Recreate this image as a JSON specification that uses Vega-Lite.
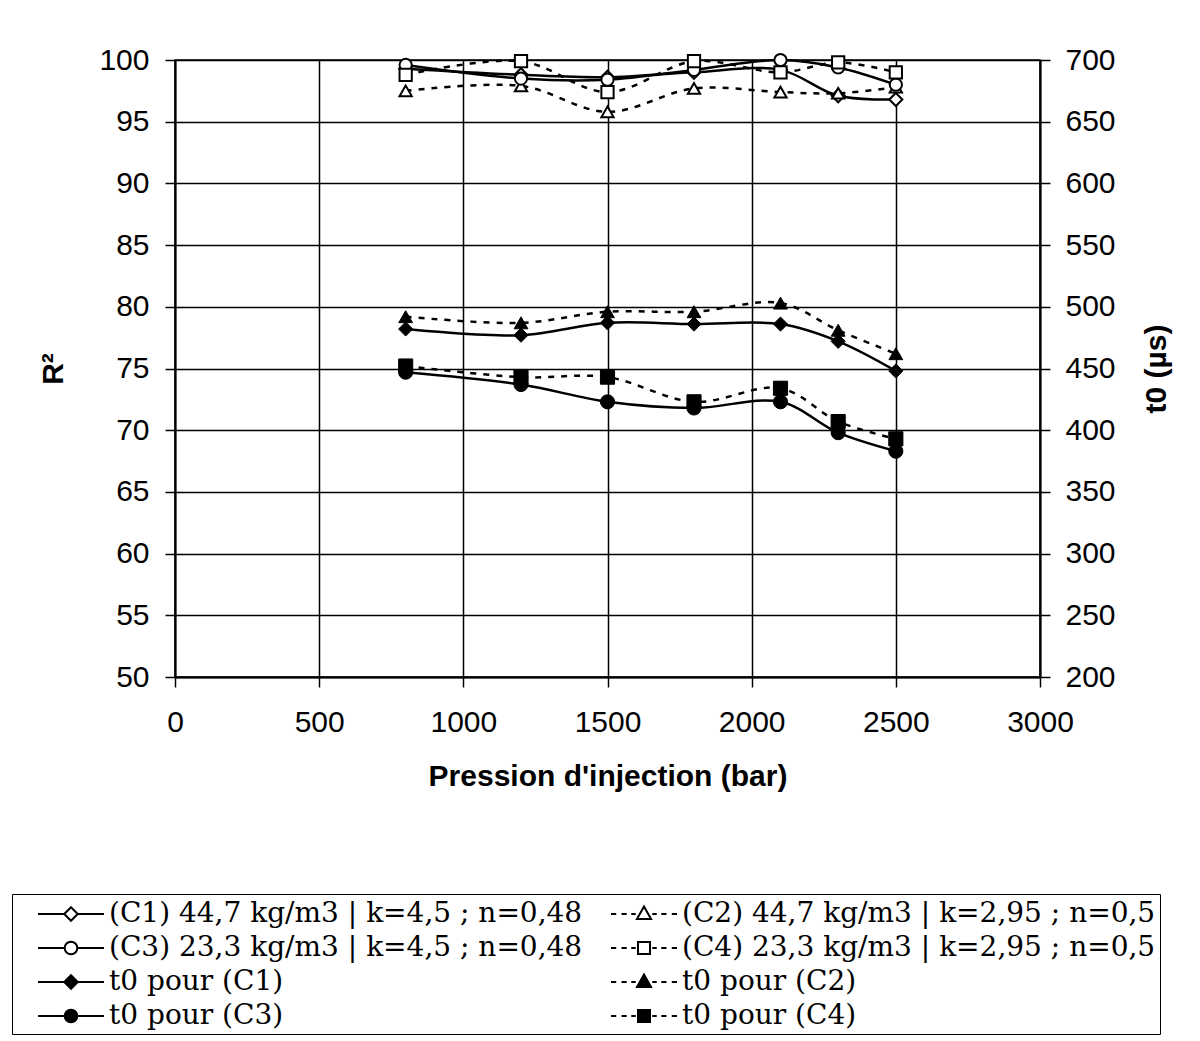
{
  "$schema": "https://vega.github.io/schema/vega-lite/v6.json",
  "autosize": {"type": "none"},
  "width": 865,
  "height": 617,
  "padding": {"left": 175, "top": 60, "right": 160, "bottom": 364},
  "background": "white",
  "config": {
    "view": {"stroke": "black", "strokeWidth": 1.5},
    "axis": {
      "labelFont": "Liberation Sans", "labelFontSize": 30, "labelColor": "black",
      "titleFont": "Liberation Sans", "titleFontSize": 30, "titleFontWeight": "bold", "titleColor": "black",
      "domainColor": "black", "domainWidth": 2, "tickColor": "black", "tickWidth": 1.5, "tickSize": 10,
      "gridColor": "black", "gridWidth": 1.5, "gridOpacity": 1, "labelFlush": false
    },
    "legend": {
      "orient": "none", "legendX": -163, "legendY": 834, "direction": "horizontal",
      "columns": 2, "columnPadding": 6, "rowPadding": 4, "padding": 4,
      "strokeColor": "black", "fillColor": "white",
      "labelFont": "DejaVu Serif", "labelFontSize": 28, "labelColor": "black",
      "labelLimit": 0, "symbolOffset": 39, "labelOffset": 22, "symbolSize": 900, "symbolStrokeWidth": 2,
      "symbolStrokeColor": "black", "symbolOpacity": 1
    }
  },
  "data": {"values": [
    {"s": "(C1) 44,7 kg/m3 | k=4,5 ; n=0,48", "p": 800, "v": 99.3},
    {"s": "(C1) 44,7 kg/m3 | k=4,5 ; n=0,48", "p": 1200, "v": 98.8},
    {"s": "(C1) 44,7 kg/m3 | k=4,5 ; n=0,48", "p": 1500, "v": 98.6},
    {"s": "(C1) 44,7 kg/m3 | k=4,5 ; n=0,48", "p": 1800, "v": 99.0},
    {"s": "(C1) 44,7 kg/m3 | k=4,5 ; n=0,48", "p": 2100, "v": 99.2},
    {"s": "(C1) 44,7 kg/m3 | k=4,5 ; n=0,48", "p": 2300, "v": 97.1},
    {"s": "(C1) 44,7 kg/m3 | k=4,5 ; n=0,48", "p": 2500, "v": 96.8},
    {"s": "(C2) 44,7 kg/m3 | k=2,95 ; n=0,5", "p": 800, "v": 97.5},
    {"s": "(C2) 44,7 kg/m3 | k=2,95 ; n=0,5", "p": 1200, "v": 97.9},
    {"s": "(C2) 44,7 kg/m3 | k=2,95 ; n=0,5", "p": 1500, "v": 95.8},
    {"s": "(C2) 44,7 kg/m3 | k=2,95 ; n=0,5", "p": 1800, "v": 97.7},
    {"s": "(C2) 44,7 kg/m3 | k=2,95 ; n=0,5", "p": 2100, "v": 97.4},
    {"s": "(C2) 44,7 kg/m3 | k=2,95 ; n=0,5", "p": 2300, "v": 97.3},
    {"s": "(C2) 44,7 kg/m3 | k=2,95 ; n=0,5", "p": 2500, "v": 97.8},
    {"s": "(C3) 23,3 kg/m3 | k=4,5 ; n=0,48", "p": 800, "v": 99.6},
    {"s": "(C3) 23,3 kg/m3 | k=4,5 ; n=0,48", "p": 1200, "v": 98.5},
    {"s": "(C3) 23,3 kg/m3 | k=4,5 ; n=0,48", "p": 1500, "v": 98.4},
    {"s": "(C3) 23,3 kg/m3 | k=4,5 ; n=0,48", "p": 1800, "v": 99.2},
    {"s": "(C3) 23,3 kg/m3 | k=4,5 ; n=0,48", "p": 2100, "v": 100.0},
    {"s": "(C3) 23,3 kg/m3 | k=4,5 ; n=0,48", "p": 2300, "v": 99.4},
    {"s": "(C3) 23,3 kg/m3 | k=4,5 ; n=0,48", "p": 2500, "v": 98.0},
    {"s": "(C4) 23,3 kg/m3 | k=2,95 ; n=0,5", "p": 800, "v": 98.8},
    {"s": "(C4) 23,3 kg/m3 | k=2,95 ; n=0,5", "p": 1200, "v": 99.9},
    {"s": "(C4) 23,3 kg/m3 | k=2,95 ; n=0,5", "p": 1500, "v": 97.4},
    {"s": "(C4) 23,3 kg/m3 | k=2,95 ; n=0,5", "p": 1800, "v": 99.9},
    {"s": "(C4) 23,3 kg/m3 | k=2,95 ; n=0,5", "p": 2100, "v": 99.0},
    {"s": "(C4) 23,3 kg/m3 | k=2,95 ; n=0,5", "p": 2300, "v": 99.8},
    {"s": "(C4) 23,3 kg/m3 | k=2,95 ; n=0,5", "p": 2500, "v": 99.0},
    {"s": "t0 pour (C1)", "p": 800, "v": 482},
    {"s": "t0 pour (C1)", "p": 1200, "v": 477},
    {"s": "t0 pour (C1)", "p": 1500, "v": 487},
    {"s": "t0 pour (C1)", "p": 1800, "v": 486},
    {"s": "t0 pour (C1)", "p": 2100, "v": 486},
    {"s": "t0 pour (C1)", "p": 2300, "v": 472},
    {"s": "t0 pour (C1)", "p": 2500, "v": 448},
    {"s": "t0 pour (C2)", "p": 800, "v": 492},
    {"s": "t0 pour (C2)", "p": 1200, "v": 487},
    {"s": "t0 pour (C2)", "p": 1500, "v": 496},
    {"s": "t0 pour (C2)", "p": 1800, "v": 496},
    {"s": "t0 pour (C2)", "p": 2100, "v": 503},
    {"s": "t0 pour (C2)", "p": 2300, "v": 481},
    {"s": "t0 pour (C2)", "p": 2500, "v": 462},
    {"s": "t0 pour (C3)", "p": 800, "v": 447},
    {"s": "t0 pour (C3)", "p": 1200, "v": 437},
    {"s": "t0 pour (C3)", "p": 1500, "v": 423},
    {"s": "t0 pour (C3)", "p": 1800, "v": 418},
    {"s": "t0 pour (C3)", "p": 2100, "v": 423},
    {"s": "t0 pour (C3)", "p": 2300, "v": 398},
    {"s": "t0 pour (C3)", "p": 2500, "v": 383},
    {"s": "t0 pour (C4)", "p": 800, "v": 452},
    {"s": "t0 pour (C4)", "p": 1200, "v": 443},
    {"s": "t0 pour (C4)", "p": 1500, "v": 443},
    {"s": "t0 pour (C4)", "p": 1800, "v": 423},
    {"s": "t0 pour (C4)", "p": 2100, "v": 434},
    {"s": "t0 pour (C4)", "p": 2300, "v": 407},
    {"s": "t0 pour (C4)", "p": 2500, "v": 393}
  ]},
  "layer": [
    {
      "transform": [{"filter": "indexof(datum.s, 't0') != 0"}],
      "encoding": {
        "x": {"field": "p", "type": "quantitative", "scale": {"domain": [0, 3000], "nice": false, "zero": false},
              "axis": {"values": [0, 500, 1000, 1500, 2000, 2500, 3000], "format": "d", "title": "Pression d'injection (bar)", "labelPadding": 20, "titlePadding": 24, "grid": true}},
        "y": {"field": "v", "type": "quantitative", "scale": {"domain": [50, 100], "nice": false, "zero": false},
              "axis": {"orient": "left", "values": [50, 55, 60, 65, 70, 75, 80, 85, 90, 95, 100], "title": "R²", "labelPadding": 16, "titlePadding": 30, "grid": true}}
      },
      "layer": [
        {
          "transform": [{"filter": "indexof(datum.s, '(C1)') == 0 || indexof(datum.s, '(C3)') == 0"}],
          "mark": {"type": "line", "interpolate": "catmull-rom", "color": "black", "strokeWidth": 2.5},
          "encoding": {"detail": {"field": "s"}}
        },
        {
          "transform": [{"filter": "indexof(datum.s, '(C2)') == 0 || indexof(datum.s, '(C4)') == 0"}],
          "mark": {"type": "line", "interpolate": "catmull-rom", "color": "black", "strokeWidth": 2.5, "strokeDash": [6, 7]},
          "encoding": {"detail": {"field": "s"}}
        },
        {
          "transform": [{"filter": "indexof(datum.s, '(C1)') == 0"}],
          "mark": {"type": "point", "shape": "diamond", "filled": true, "fill": "white", "stroke": "black", "strokeWidth": 2, "size": 170, "opacity": 1}
        },
        {
          "transform": [{"filter": "indexof(datum.s, '(C2)') == 0"}],
          "mark": {"type": "point", "shape": "triangle-up", "filled": true, "fill": "white", "stroke": "black", "strokeWidth": 2, "size": 150, "opacity": 1}
        },
        {
          "transform": [{"filter": "indexof(datum.s, '(C3)') == 0"}],
          "mark": {"type": "point", "shape": "circle", "filled": true, "fill": "white", "stroke": "black", "strokeWidth": 2, "size": 150, "opacity": 1}
        },
        {
          "transform": [{"filter": "indexof(datum.s, '(C4)') == 0"}],
          "mark": {"type": "point", "shape": "square", "filled": true, "fill": "white", "stroke": "black", "strokeWidth": 2, "size": 150, "opacity": 1}
        }
      ]
    },
    {
      "transform": [{"filter": "indexof(datum.s, 't0') == 0"}],
      "encoding": {
        "x": {"field": "p", "type": "quantitative"},
        "y": {"field": "v", "type": "quantitative", "scale": {"domain": [200, 700], "nice": false, "zero": false},
              "axis": {"orient": "right", "values": [200, 250, 300, 350, 400, 450, 500, 550, 600, 650, 700], "title": "t0 (µs)", "titleAngle": 270, "titleBaseline": "top", "labelPadding": 15, "titlePadding": 26, "grid": false}}
      },
      "layer": [
        {
          "transform": [{"filter": "indexof(datum.s, '(C1)') >= 0 || indexof(datum.s, '(C3)') >= 0"}],
          "mark": {"type": "line", "interpolate": "catmull-rom", "color": "black", "strokeWidth": 2.5},
          "encoding": {"detail": {"field": "s"}}
        },
        {
          "transform": [{"filter": "indexof(datum.s, '(C2)') >= 0 || indexof(datum.s, '(C4)') >= 0"}],
          "mark": {"type": "line", "interpolate": "catmull-rom", "color": "black", "strokeWidth": 2.5, "strokeDash": [6, 7]},
          "encoding": {"detail": {"field": "s"}}
        },
        {
          "transform": [{"filter": "indexof(datum.s, '(C1)') >= 0"}],
          "mark": {"type": "point", "shape": "diamond", "filled": true, "fill": "black", "stroke": "black", "strokeWidth": 1, "size": 200, "opacity": 1}
        },
        {
          "transform": [{"filter": "indexof(datum.s, '(C2)') >= 0"}],
          "mark": {"type": "point", "shape": "triangle-up", "filled": true, "fill": "black", "stroke": "black", "strokeWidth": 1, "size": 190, "opacity": 1}
        },
        {
          "transform": [{"filter": "indexof(datum.s, '(C3)') >= 0"}],
          "mark": {"type": "point", "shape": "circle", "filled": true, "fill": "black", "stroke": "black", "strokeWidth": 1, "size": 200, "opacity": 1}
        },
        {
          "transform": [{"filter": "indexof(datum.s, '(C4)') >= 0"}],
          "mark": {"type": "point", "shape": "square", "filled": true, "fill": "black", "stroke": "black", "strokeWidth": 1, "size": 200, "opacity": 1}
        }
      ]
    },
    {
      "transform": [{"filter": "false"}],
      "mark": {"type": "point", "filled": false, "stroke": "black", "strokeWidth": 2, "opacity": 1},
      "encoding": {
        "shape": {"field": "s", "type": "nominal",
          "scale": {"domain": ["(C1) 44,7 kg/m3 | k=4,5 ; n=0,48", "(C2) 44,7 kg/m3 | k=2,95 ; n=0,5", "(C3) 23,3 kg/m3 | k=4,5 ; n=0,48", "(C4) 23,3 kg/m3 | k=2,95 ; n=0,5", "t0 pour (C1)", "t0 pour (C2)", "t0 pour (C3)", "t0 pour (C4)"],
                    "range": [
                      "M-2.2,0H-0.45M0.45,0H2.2M-0.45,0L0,-0.45L0.45,0L0,0.45Z",
                      "M-2.2,0H-1.85M-1.5,0H-1.15M-0.85,0H-0.55M0.55,0H0.85M1.15,0H1.5M1.85,0H2.2M0,-0.5L0.47,0.33L-0.47,0.33Z",
                      "M-2.2,0H-0.42M0.42,0H2.2M0.42,0A0.42,0.42,0,1,1,-0.42,0A0.42,0.42,0,1,1,0.42,0Z",
                      "M-2.2,0H-1.85M-1.5,0H-1.15M-0.85,0H-0.55M0.55,0H0.85M1.15,0H1.5M1.85,0H2.2M-0.4,-0.4H0.4V0.4H-0.4Z",
                      "M-2.2,0H2.2M-0.45,0L0,-0.45L0.45,0L0,0.45ZM-0.09,-0.36H0.09M-0.21,-0.24H0.21M-0.33,-0.12H0.33M-0.33,0.12H0.33M-0.21,0.24H0.21M-0.09,0.36H0.09",
                      "M-2.2,0H-1.85M-1.5,0H-1.15M-0.85,0H-0.55M0.55,0H0.85M1.15,0H1.5M1.85,0H2.2M0,-0.5L0.47,0.33L-0.47,0.33ZM-0.07,-0.38H0.07M-0.14,-0.26H0.14M-0.2,-0.14H0.2M-0.27,-0.02H0.27M-0.34,0.1H0.34M-0.41,0.22H0.41",
                      "M-2.2,0H2.2M0.42,0A0.42,0.42,0,1,1,-0.42,0A0.42,0.42,0,1,1,0.42,0ZM-0.22,-0.36H0.22M-0.34,-0.24H0.34M-0.4,-0.12H0.4M-0.4,0.12H0.4M-0.34,0.24H0.34M-0.22,0.36H0.22",
                      "M-2.2,0H-1.85M-1.5,0H-1.15M-0.85,0H-0.55M0.55,0H0.85M1.15,0H1.5M1.85,0H2.2M-0.4,-0.4H0.4V0.4H-0.4ZM-0.4,-0.28H0.4M-0.4,-0.16H0.4M-0.4,-0.04H0.4M-0.4,0.08H0.4M-0.4,0.2H0.4M-0.4,0.32H0.4"
                    ]},
          "legend": {"title": null, "labelExpr": "indexof(datum.label, '(C2)') >= 0 || indexof(datum.label, '(C4)') >= 0 ? datum.label + '\u00a0\u00a0\u00a0' : datum.label"}}
      }
    }
  ],
  "resolve": {"scale": {"y": "independent"}}
}
